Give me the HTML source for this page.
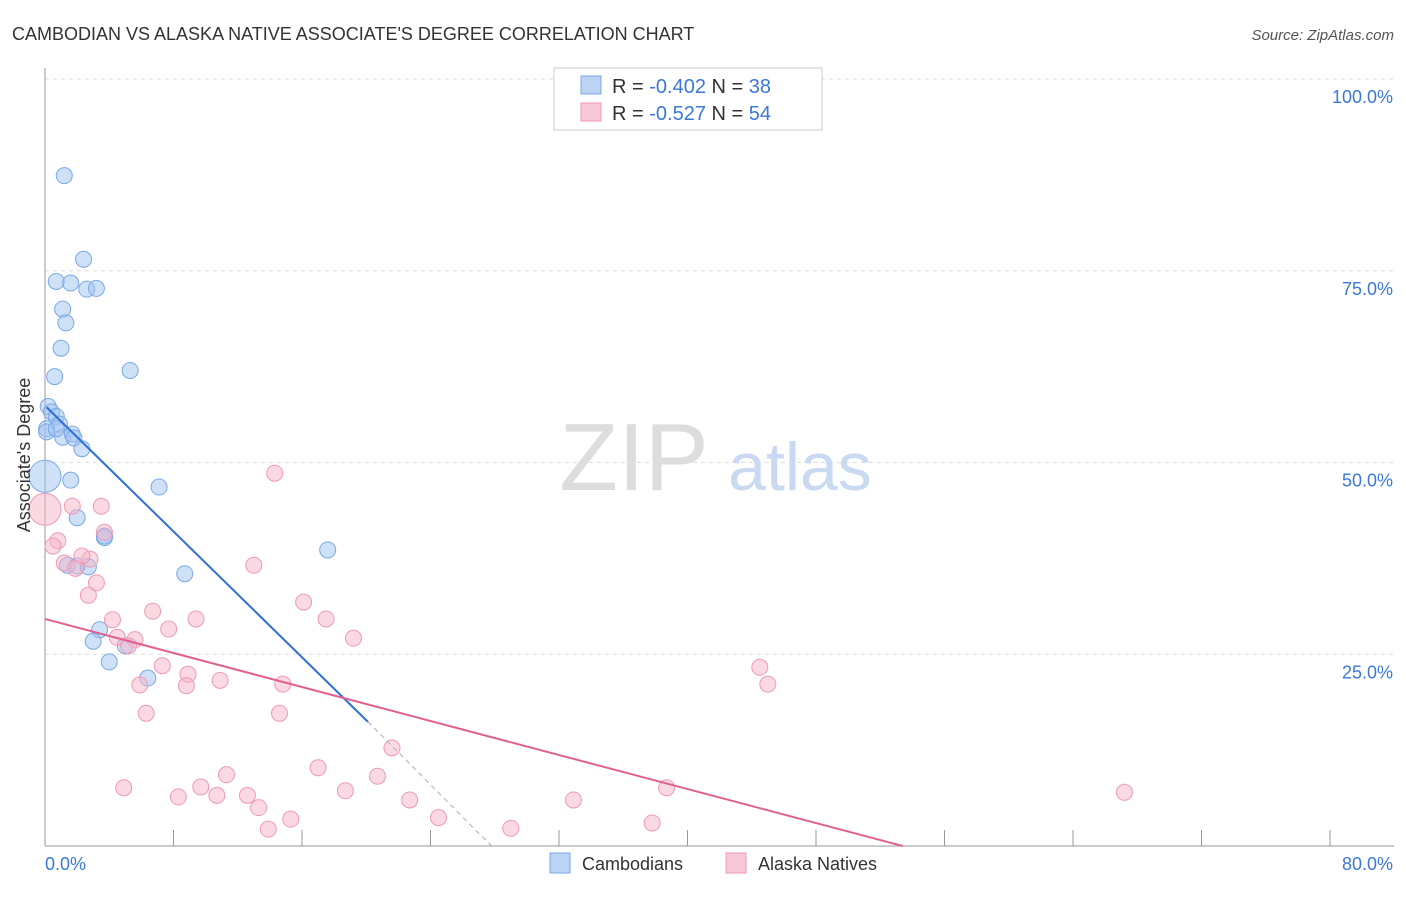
<!DOCTYPE html>
<html><head><meta charset="utf-8"><style>
body{margin:0;background:#fff;font-family:"Liberation Sans",sans-serif}
svg text{font-family:"Liberation Sans",sans-serif}
</style></head><body>
<svg id="c" width="1406" height="892" viewBox="0 0 1406 892" xmlns="http://www.w3.org/2000/svg">
<text x="12" y="40" font-size="18" fill="#333">CAMBODIAN VS ALASKA NATIVE ASSOCIATE'S DEGREE CORRELATION CHART</text>
<text x="1394" y="40" font-size="15" fill="#555" font-style="italic" text-anchor="end">Source: ZipAtlas.com</text>
<g id="grid"></g>
<text x="634" y="490" font-size="96" fill="#ddd" font-family="Liberation Serif" text-anchor="middle">ZIP</text>
<text x="800" y="490" font-size="68" fill="#c9d9f2" text-anchor="middle">atlas</text>
<g id="pts"></g>
<g id="lines"></g>
<text x="30" y="455" font-size="18" fill="#333" transform="rotate(-90 30 455)" text-anchor="middle">Associate's Degree</text>
<text x="45" y="870" font-size="18" fill="#3b78d8">0.0%</text>
<text x="1393" y="870" font-size="18" fill="#3b78d8" text-anchor="end">80.0%</text>
<g>
<rect x="554" y="68" width="268" height="62" fill="#fff" stroke="#ccc"/>
<rect x="581" y="76" width="20" height="18" fill="#bcd4f4" stroke="#7aa8e6"/>
<rect x="581" y="103" width="20" height="18" fill="#f9c8d6" stroke="#ee9ab5"/>
<text x="612" y="93" font-size="20" fill="#333">R = <tspan fill="#3b78d8">-0.402</tspan>   N = <tspan fill="#3b78d8">38</tspan></text>
<text x="612" y="120" font-size="20" fill="#333">R = <tspan fill="#3b78d8"> -0.527</tspan>   N = <tspan fill="#3b78d8">54</tspan></text>
</g>
<g>
<rect x="550" y="853" width="20" height="20" fill="#bcd4f4" stroke="#7aa8e6"/>
<text x="582" y="870" font-size="18" fill="#333">Cambodians</text>
<rect x="726" y="853" width="20" height="20" fill="#f9c8d6" stroke="#ee9ab5"/>
<text x="758" y="870" font-size="18" fill="#333">Alaska Natives</text>
</g>
</svg>
<script>
const yTicks=[100,75,50,25];
const yTickLabels=["100.0%","75.0%","50.0%","25.0%"];
const xTicks=[0,8,16,24,32,40,48,56,64,72,80];
const blueX=[1.2,2.4,0.7,1.6,2.6,3.2,1.1,1.3,1.0,5.3,0.6,0.2,0.4,0.7,0.9,0.1,1.1,1.7,1.8,2.3,0.0,1.6,7.1,2.0,3.7,3.7,17.6,1.4,2.0,2.7,8.7,3.4,3.0,5.0,4.0,6.4,0.1,0.7];
const blueY=[87.4,76.5,73.6,73.4,72.6,72.7,70.0,68.2,64.9,62.0,61.2,57.3,56.6,56.0,55.0,54.4,53.3,53.7,53.2,51.8,48.2,47.7,46.8,42.8,40.2,40.4,38.6,36.6,36.5,36.4,35.5,28.2,26.7,26.1,24.0,21.9,54.0,54.4];
const pinkX=[14.3,0.0,1.7,3.5,3.7,0.8,0.5,1.2,2.8,2.3,1.9,3.2,2.7,13.0,16.1,6.7,4.2,9.4,17.5,7.7,4.5,5.6,5.2,19.2,7.3,8.9,5.9,8.8,10.9,14.8,44.5,45.0,6.3,14.6,21.6,17.0,20.7,4.9,9.7,11.3,8.3,12.6,10.7,18.7,13.3,22.7,15.3,13.9,24.5,32.9,29.0,37.8,38.7,67.2];
const pinkY=[48.6,43.9,44.3,44.3,40.9,39.8,39.1,36.9,37.4,37.8,36.2,34.3,32.7,36.6,31.8,30.6,29.5,29.6,29.6,28.3,27.2,26.9,26.1,27.1,23.5,22.4,21.0,20.9,21.6,21.1,23.3,21.1,17.3,17.3,12.8,10.2,9.1,7.6,7.7,9.3,6.4,6.6,6.6,7.2,5.0,6.0,3.5,2.2,3.7,6.0,2.3,3.0,7.6,7.0];
const blueLine=[[0.1,57.2],[20.1,16.2],[27.8,0]];
const pinkLine=[[0,29.6],[53.4,0]];
const X=v=>45+v/80*1285, Y=v=>846-v/100*767;
const NS="http://www.w3.org/2000/svg";
function mk(t,a,p){const e=document.createElementNS(NS,t);for(const k in a)e.setAttribute(k,a[k]);p.appendChild(e);return e;}
const g=document.getElementById('grid');
yTicks.forEach((v,i)=>{
 const l=mk('line',{x1:45,x2:1394,y1:Y(v),y2:Y(v),stroke:'#ddd','stroke-dasharray':'4,4'},g);
 
 
 const t=mk('text',{x:1393,y:Y(v)+24,'font-size':18,fill:'#3b78d8','text-anchor':'end'},g);
 t.textContent=yTickLabels[i];
 
 
});
mk('line',{x1:45,x2:45,y1:68,y2:846,stroke:'#999'},g);
mk('line',{x1:45,x2:1394,y1:846,y2:846,stroke:'#999'},g);
xTicks.forEach(v=>{const l=mk('line',{x1:X(v),x2:X(v),y1:830,y2:846,stroke:'#999'},g);
 
 });
const p=document.getElementById('pts');
blueX.forEach((v,i)=>{const r=(v===0&&blueY[i]>48&&blueY[i]<49)?16:8;
 const c=mk('circle',{cx:X(v),cy:Y(blueY[i]),r:r,fill:'rgba(160,195,240,0.5)',stroke:'#7aa8e6','stroke-width':1},p);
 
 });
pinkX.forEach((v,i)=>{const r=(v===0&&i===1)?16:8;
 const c=mk('circle',{cx:X(v),cy:Y(pinkY[i]),r:r,fill:'rgba(245,180,200,0.5)',stroke:'#ee9ab5','stroke-width':1},p);
 
 });
const L=document.getElementById('lines');
const b1=mk('line',{x1:X(blueLine[0][0]),y1:Y(blueLine[0][1]),x2:X(blueLine[1][0]),y2:Y(blueLine[1][1]),stroke:'#2f6fd6','stroke-width':2},L);


const b2=mk('line',{x1:X(blueLine[1][0]),y1:Y(blueLine[1][1]),x2:X(blueLine[2][0]),y2:Y(blueLine[2][1]),stroke:'#aab','stroke-width':1,'stroke-dasharray':'5,4'},L);


const pl=mk('line',{x1:X(pinkLine[0][0]),y1:Y(pinkLine[0][1]),x2:X(pinkLine[1][0]),y2:Y(pinkLine[1][1]),stroke:'#e0608f','stroke-width':2},L);


</script>
</body></html>
